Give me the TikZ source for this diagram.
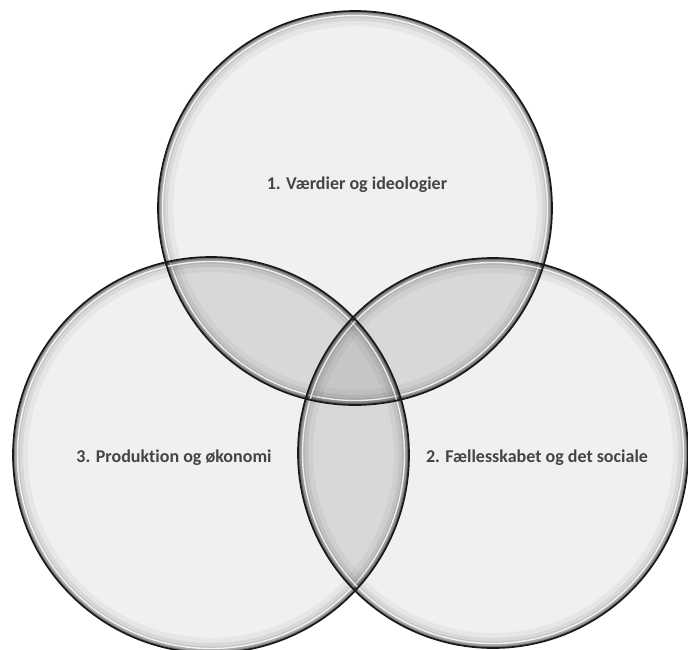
\documentclass[tikz,border=0pt]{standalone}
\usepackage{fontspec}
\setmainfont{Carlito}[Ligatures=NoCommon]
\definecolor{basefill}{HTML}{F0F0F0}
\definecolor{pairfill}{HTML}{D8D8D8}
\definecolor{triplefill}{HTML}{C6C6C6}
\definecolor{labelgray}{HTML}{444444}
\tikzset{
  ring/.style={circle, draw=black!90, line width=1.7pt, inner sep=0pt},
  lbl/.style={text=labelgray, font=\fontsize{18}{20}\selectfont\bfseries, inner sep=0pt},
}
\begin{document}
\begin{tikzpicture}[x=1pt,y=-1pt]
\fill[white] (0,0) rectangle (688,649);
\useasboundingbox (0,0) rectangle (688,649);
\coordinate (cT) at (355,208);
\coordinate (cL) at (211,455);
\coordinate (cR) at (493,453);
% base fills
\fill[basefill] (cT) circle[radius=197pt];
\fill[basefill] (cL) circle[radius=198pt];
\fill[basefill] (cR) circle[radius=195pt];
% pairwise overlaps
\begin{scope}
  \clip (cT) circle[radius=197pt];
  \fill[pairfill] (cL) circle[radius=198pt];
  \fill[pairfill] (cR) circle[radius=195pt];
\end{scope}
\begin{scope}
  \clip (cL) circle[radius=198pt];
  \fill[pairfill] (cR) circle[radius=195pt];
\end{scope}
% triple overlap
\begin{scope}
  \clip (cT) circle[radius=197pt];
  \clip (cL) circle[radius=198pt];
  \fill[triplefill] (cR) circle[radius=195pt];
\end{scope}
% inner rim glow for each circle
\foreach \cc/\rr in {cT/197, cL/198, cR/195}{
  \begin{scope}
    \clip (\cc) circle[radius=\rr pt];
    \draw[black, line width=30pt, opacity=0.04] (\cc) circle[radius=\rr pt];
    \draw[black, line width=20pt, opacity=0.06] (\cc) circle[radius=\rr pt];
    \draw[black, line width=13pt, opacity=0.09] (\cc) circle[radius=\rr pt];
    \draw[black, line width=8pt, opacity=0.14] (\cc) circle[radius=\rr pt];
    \draw[black, line width=4pt, opacity=0.25] (\cc) circle[radius=\rr pt];
    \draw[white, line width=1.4pt, opacity=0.8] (\cc) circle[radius=\rr pt - 4.5pt];
  \end{scope}
}
% circle borders
\node[ring, minimum size=394pt] (T) at (cT) {};
\node[ring, minimum size=396pt] (L) at (cL) {};
\node[ring, minimum size=390pt] (R) at (cR) {};
% labels
\node[lbl] (t1) at (357,185) {1. Værdier og ideologier};
\node[lbl] (t3) at (174,458) {3. Produktion og økonomi};
\node[lbl] (t2) at (537,458) {2. Fællesskabet og det sociale};
\end{tikzpicture}
\end{document}
